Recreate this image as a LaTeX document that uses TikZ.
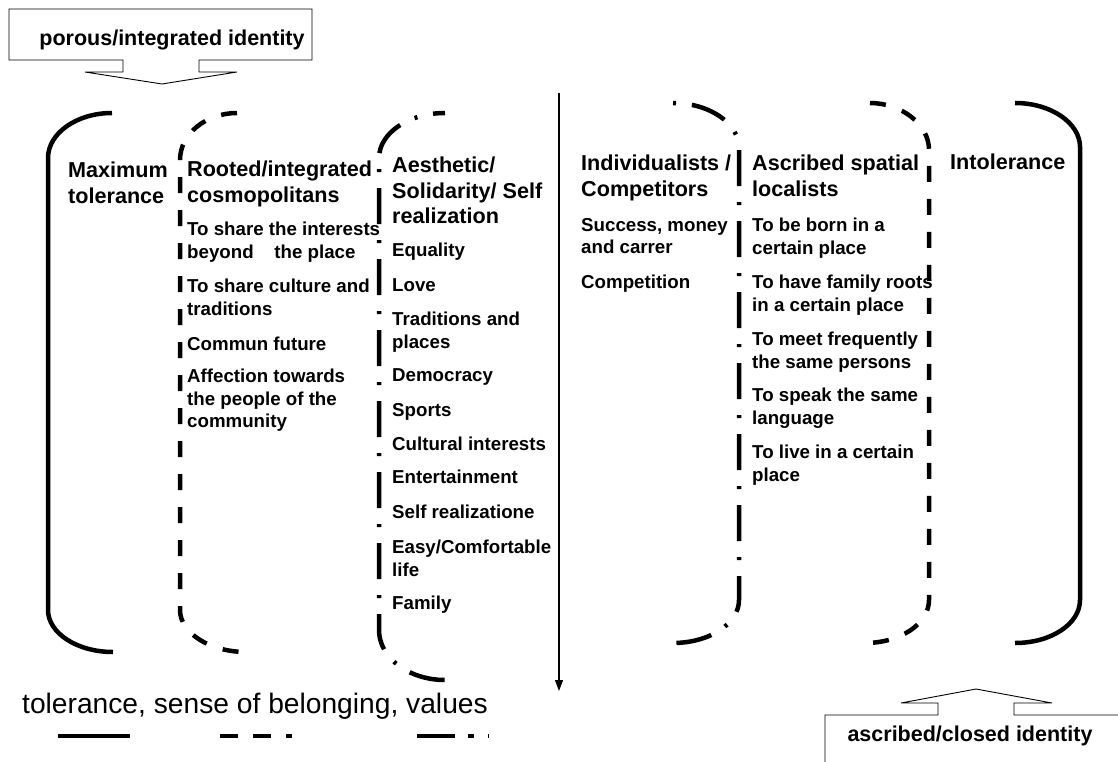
\documentclass[tikz,border=0pt]{standalone}
\usepackage{fontspec}
\setmainfont{Liberation Sans}
\usetikzlibrary{arrows.meta}
\begin{document}
\begin{tikzpicture}[x=1pt,y=-1pt,
  bk/.style={line width=4.5pt},
  dsh/.style={bk, dash pattern=on 16pt off 17pt},
  dshdot/.style={bk, dash pattern=on 36pt off 16pt on 3pt off 16pt},
  head/.style={font=\fontsize{21.6}{25.5}\selectfont\bfseries, align=left, anchor=north west, inner sep=0pt},
  item/.style={font=\fontsize{18.7}{22.5}\selectfont\bfseries, align=left, anchor=north west, inner sep=0pt},
  callout/.style={draw, line width=0.9pt, line join=miter},
  idtext/.style={font=\fontsize{21.5}{25}\selectfont\bfseries, inner sep=0pt, anchor=base}]
\useasboundingbox (0,0) rectangle (1118,762);
\clip (0,0) rectangle (1118,762);

% top callout
\draw[callout] (9,9) -- (312,9) -- (312,60) -- (199,60) -- (199,72) -- (237,72) -- (162,84) -- (85,72) -- (123,72) -- (123,60) -- (9,60) -- cycle;
\node[idtext] (porous) at (172,46) {porous/integrated identity};

% bottom callout
\draw[callout] (825,775) -- (825,715) -- (938,715) -- (938,703) -- (901,703) -- (976,689) -- (1052,703) -- (1014,703) -- (1014,715) -- (1125,715);
\node[idtext] (ascribed) at (970,741) {ascribed/closed identity};

% central arrow
\coordinate (atop) at (559,93);
\coordinate (abot) at (559,691);
\draw[line width=1.2pt, -{Triangle[length=11pt,width=8pt]}] (atop) -- (abot);

% left brackets
\draw[bk] (112,113) .. controls (77,113) and (48,133) .. (48,158) -- (48,610) .. controls (48,633) and (77,652) .. (113,652);
\draw[dsh] (237,113) .. controls (206,113) and (180,134) .. (180,160) -- (180,610) .. controls (180,633) and (210,652) .. (246,652);
\draw[dshdot, dash phase=24pt] (445,113) .. controls (409,113) and (379,133) .. (379,158) -- (379,630) .. controls (379,658) and (409,680) .. (445,680);

% right brackets
\draw[bk, dash pattern=on 3pt off 16pt on 36pt off 16pt] (673,103) .. controls (709,103) and (739,123) .. (739,148) -- (739,600) .. controls (739,624) and (709,643) .. (673,643);
\draw[dsh] (870,103) .. controls (901,103) and (929,124) .. (929,150) -- (929,600) .. controls (929,624) and (900,643) .. (865,643);
\draw[bk] (1015,103) .. controls (1051,103) and (1080,123) .. (1080,147) -- (1080,600) .. controls (1080,624) and (1051,643) .. (1015,643);

% column 1
\node[head] (maxtol) at (68,162) {Maximum\\tolerance};

% column 2
\node[head] (rooted) at (187,161) {Rooted/integrated\\cosmopolitans};
\node[item] (r1) at (187,222) {To share the interests\\beyond\ \ \ \ the place};
\node[item] (r2) at (187,279) {To share culture and\\traditions};
\node[item] (r3) at (187,337) {Commun future};
\node[item] (r4) at (187,369) {Affection towards\\the people of the\\community};

% column 3
\node[head] (aesth) at (392,157) {Aesthetic/\\Solidarity/ Self\\realization};
\node[item] (a1) at (392,243) {Equality};
\node[item] (a2) at (392,278) {Love};
\node[item] (a3) at (392,312) {Traditions and\\places};
\node[item] (a4) at (392,368) {Democracy};
\node[item] (a5) at (392,403) {Sports};
\node[item] (a6) at (392,437) {Cultural interests};
\node[item] (a7) at (392,470) {Entertainment};
\node[item] (a8) at (392,505) {Self realizatione};
\node[item] (a9) at (392,540) {Easy/Comfortable\\life};
\node[item] (a10) at (392,596) {Family};

% column 4
\node[head] (indiv) at (581,155) {Individualists /\\Competitors};
\node[item] (i1) at (581,218) {Success, money\\and carrer};
\node[item] (i2) at (581,275) {Competition};

% column 5
\node[head] (ascr) at (752,155) {Ascribed spatial\\localists};
\node[item] (s1) at (752,218) {To be born in a\\certain place};
\node[item] (s2) at (752,275) {To have family roots\\in a certain place};
\node[item] (s3) at (752,332) {To meet frequently\\the same persons};
\node[item] (s4) at (752,388) {To speak the same\\language};
\node[item] (s5) at (752,445) {To live in a certain\\place};

% column 6
\node[head] (intol) at (950,154) {Intolerance};

% legend
\node[font=\fontsize{28.2}{32}\selectfont, inner sep=0pt, anchor=base] (legend) at (255,713) {tolerance, sense of belonging, values};
\draw[bk] (58,736) -- (130,736);
\draw[bk, dash pattern=on 18pt off 15pt] (220,736) -- (292,736);
\draw[bk, dash pattern=on 38pt off 13pt on 6pt off 14pt] (417,736) -- (489,736);
\end{tikzpicture}
\end{document}
